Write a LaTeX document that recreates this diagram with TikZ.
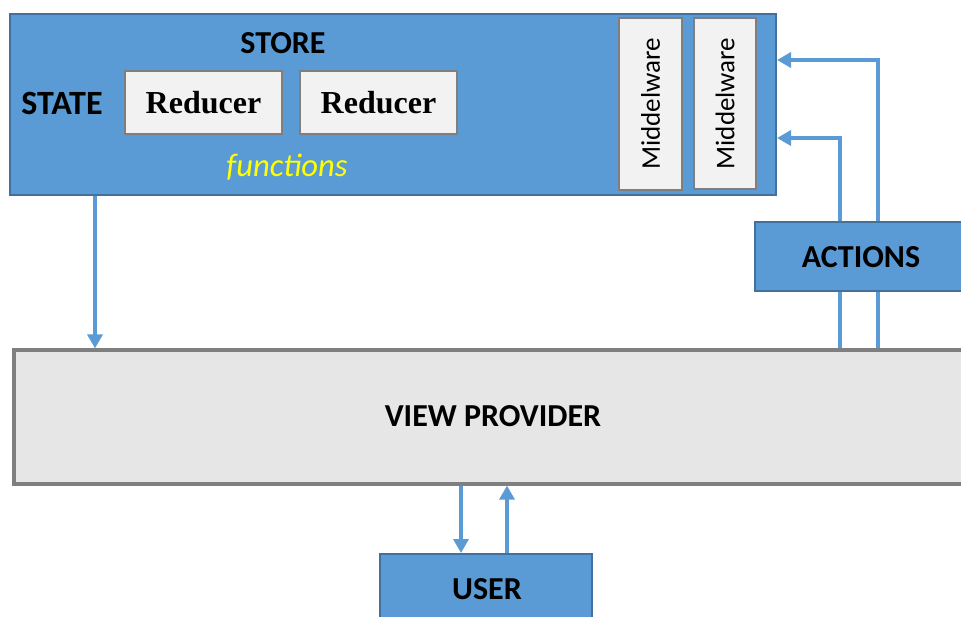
\documentclass[tikz,border=0pt]{standalone}
\usepackage{fontspec}
\setmainfont{Carlito}
\newfontfamily\reducerfont{Liberation Serif}
\usetikzlibrary{arrows.meta}
\definecolor{bluefill}{HTML}{5B9BD5}
\definecolor{blueedge}{HTML}{41719C}
\definecolor{boxfill}{HTML}{F2F2F2}
\definecolor{boxedge}{HTML}{7F7F7F}
\definecolor{vpfill}{HTML}{E6E6E6}
\definecolor{fnyellow}{HTML}{FFFF00}
\tikzset{
  bluebox/.style={draw=blueedge, fill=bluefill, line width=1pt, inner sep=0pt},
  graybox/.style={draw=boxedge, fill=boxfill, line width=1pt, inner sep=0pt},
  vpbox/.style={draw=boxedge, fill=vpfill, line width=1.6pt, inner sep=0pt},
  lbl/.style={font=\fontsize{16}{19}\selectfont\bfseries, inner sep=0pt},
  conn/.style={draw=bluefill, line width=1.7pt},
  arr/.style={conn, -{Triangle[length=7pt, width=7.5pt]}}
}
\begin{document}
\begin{tikzpicture}[x=0.5pt, y=-0.5pt]
\useasboundingbox (0,0) rectangle (961,616);
\clip (0,0) rectangle (961,616);
% store
\node[bluebox, minimum width=383pt, minimum height=90.5pt] (store) at (393,104.5) {};
\node[lbl] (storelbl) at (283,43) {STORE};
\node[lbl, font=\fontsize{17}{20}\selectfont\bfseries] (statelbl) at (62,103) {STATE};
\node[graybox, minimum width=78.5pt, minimum height=31.5pt, font=\reducerfont\fontsize{16}{19}\selectfont\bfseries] (red1) at (203.5,102.5) {Reducer};
\node[graybox, minimum width=78.5pt, minimum height=31.5pt, font=\reducerfont\fontsize{16}{19}\selectfont\bfseries] (red2) at (378.5,102.5) {Reducer};
\node[font=\fontsize{16.3}{19}\selectfont\itshape, text=fnyellow, inner sep=0pt] (fn) at (287,167) {functions};
\node[graybox, rotate=90, minimum width=86pt, minimum height=31.5pt, font=\fontsize{13.5}{16}\selectfont] (mw1) at (650.5,104) {Middelware};
\node[graybox, rotate=90, minimum width=85.5pt, minimum height=31pt, font=\fontsize{13.5}{16}\selectfont] (mw2) at (725,103.5) {Middelware};
% actions
\node[bluebox, minimum width=106pt, minimum height=34.5pt] (act) at (861,256.5) {};
\node[lbl] (actlbl) at (861,257) {ACTIONS};
% view provider
\node[vpbox, minimum width=478pt, minimum height=67pt] (vp) at (492,417) {};
\node[lbl] (vplbl) at (493,416) {VIEW PROVIDER};
% user
\node[bluebox, minimum width=106pt, minimum height=34pt] (user) at (486,588) {};
\node[lbl] (userlbl) at (487,589) {USER};
% helper coordinates
\coordinate (xa) at (840,0);
\coordinate (xb) at (878,0);
\coordinate (ya) at (0,138);
\coordinate (yb) at (0,60);
\coordinate (xs) at (95,0);
\coordinate (xd) at (461,0);
\coordinate (xu) at (507,0);
% connectors
\draw[arr] (store.south -| xs) -- (vp.north -| xs);
\draw[conn] (vp.north -| xa) -- (act.south -| xa);
\draw[conn] (vp.north -| xb) -- (act.south -| xb);
\draw[arr] (act.north -| xa) |- (store.east |- ya);
\draw[arr] (act.north -| xb) |- (store.east |- yb);
\draw[arr] (vp.south -| xd) -- (user.north -| xd);
\draw[arr] (user.north -| xu) -- (vp.south -| xu);
\end{tikzpicture}
\end{document}
